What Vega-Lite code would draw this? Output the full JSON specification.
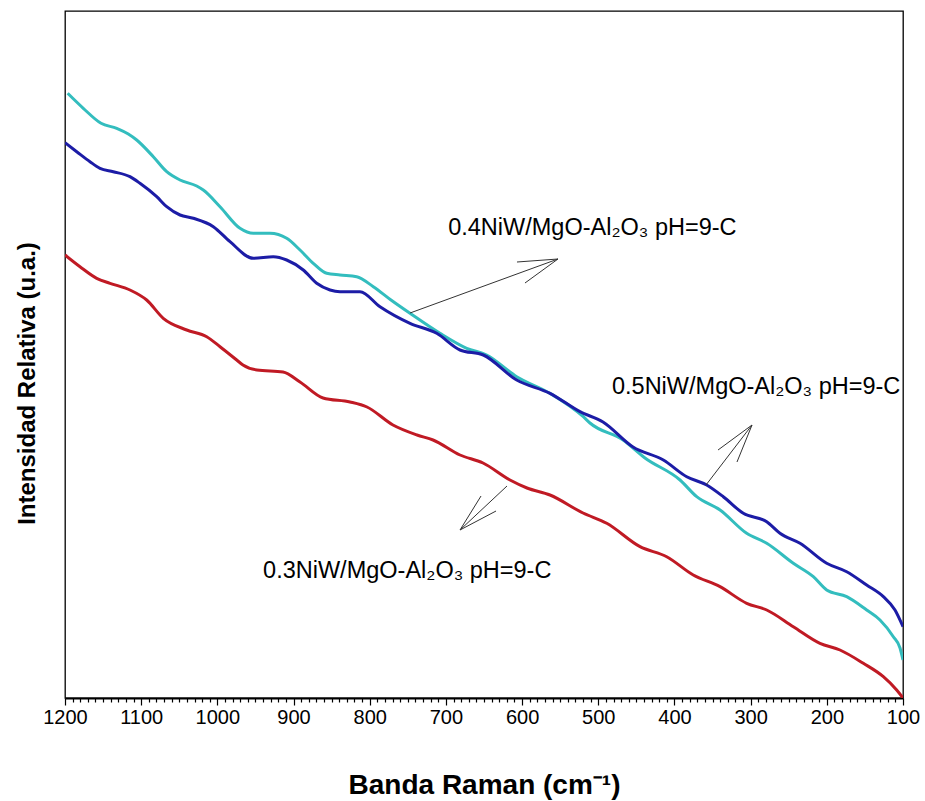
{
  "$schema": "https://vega.github.io/schema/vega-lite/v6.json",
  "width": 838,
  "height": 687,
  "autosize": {"type": "none"},
  "padding": {"left": 65, "top": 11, "right": 22, "bottom": 103},
  "background": "white",
  "config": {
    "view": {"stroke": "black", "strokeWidth": 1.3},
    "font": "Liberation Sans"
  },
  "datasets": {
    "espectros": [
      {"serie": "0.3", "banda": 1200, "intensidad": 443},
      {"serie": "0.3", "banda": 1180.3, "intensidad": 431.3},
      {"serie": "0.3", "banda": 1158.4, "intensidad": 419.7},
      {"serie": "0.3", "banda": 1140.9, "intensidad": 414.7},
      {"serie": "0.3", "banda": 1114.7, "intensidad": 408},
      {"serie": "0.3", "banda": 1092.8, "intensidad": 398},
      {"serie": "0.3", "banda": 1071, "intensidad": 379.7},
      {"serie": "0.3", "banda": 1040.2, "intensidad": 368},
      {"serie": "0.3", "banda": 1014, "intensidad": 361.3},
      {"serie": "0.3", "banda": 996.5, "intensidad": 351.3},
      {"serie": "0.3", "banda": 974.6, "intensidad": 338},
      {"serie": "0.3", "banda": 966.4, "intensidad": 333},
      {"serie": "0.3", "banda": 948, "intensidad": 328},
      {"serie": "0.3", "banda": 913.8, "intensidad": 326},
      {"serie": "0.3", "banda": 891.5, "intensidad": 316},
      {"serie": "0.3", "banda": 861.3, "intensidad": 300},
      {"serie": "0.3", "banda": 825.9, "intensidad": 296},
      {"serie": "0.3", "banda": 803.6, "intensidad": 291},
      {"serie": "0.3", "banda": 769.5, "intensidad": 273},
      {"serie": "0.3", "banda": 737.9, "intensidad": 263},
      {"serie": "0.3", "banda": 716.9, "intensidad": 258},
      {"serie": "0.3", "banda": 681.5, "intensidad": 243},
      {"serie": "0.3", "banda": 651.3, "intensidad": 235},
      {"serie": "0.3", "banda": 615.9, "intensidad": 218},
      {"serie": "0.3", "banda": 593.6, "intensidad": 210},
      {"serie": "0.3", "banda": 563.4, "intensidad": 203},
      {"serie": "0.3", "banda": 520, "intensidad": 185},
      {"serie": "0.3", "banda": 488.9, "intensidad": 174.7},
      {"serie": "0.3", "banda": 445.2, "intensidad": 151.3},
      {"serie": "0.3", "banda": 410.2, "intensidad": 141.3},
      {"serie": "0.3", "banda": 375.3, "intensidad": 123},
      {"serie": "0.3", "banda": 340.2, "intensidad": 111.3},
      {"serie": "0.3", "banda": 305.2, "intensidad": 94.7},
      {"serie": "0.3", "banda": 278.9, "intensidad": 88},
      {"serie": "0.3", "banda": 244, "intensidad": 71.3},
      {"serie": "0.3", "banda": 209, "intensidad": 54.7},
      {"serie": "0.3", "banda": 182.7, "intensidad": 48},
      {"serie": "0.3", "banda": 152.1, "intensidad": 34.7},
      {"serie": "0.3", "banda": 125.8, "intensidad": 21.3},
      {"serie": "0.3", "banda": 108.3, "intensidad": 8},
      {"serie": "0.3", "banda": 100, "intensidad": 0},

      {"serie": "0.4", "banda": 1196.5, "intensidad": 604.7},
      {"serie": "0.4", "banda": 1176, "intensidad": 589.7},
      {"serie": "0.4", "banda": 1152.7, "intensidad": 574.7},
      {"serie": "0.4", "banda": 1132.1, "intensidad": 569.7},
      {"serie": "0.4", "banda": 1116.9, "intensidad": 564},
      {"serie": "0.4", "banda": 1105.9, "intensidad": 558},
      {"serie": "0.4", "banda": 1084.1, "intensidad": 541.3},
      {"serie": "0.4", "banda": 1066.5, "intensidad": 526.3},
      {"serie": "0.4", "banda": 1049, "intensidad": 518},
      {"serie": "0.4", "banda": 1027.1, "intensidad": 512},
      {"serie": "0.4", "banda": 1018.5, "intensidad": 508},
      {"serie": "0.4", "banda": 996.5, "intensidad": 491.3},
      {"serie": "0.4", "banda": 970.3, "intensidad": 469.7},
      {"serie": "0.4", "banda": 952.8, "intensidad": 464.7},
      {"serie": "0.4", "banda": 930.9, "intensidad": 464.7},
      {"serie": "0.4", "banda": 909, "intensidad": 459.7},
      {"serie": "0.4", "banda": 891.5, "intensidad": 448},
      {"serie": "0.4", "banda": 874.1, "intensidad": 434.7},
      {"serie": "0.4", "banda": 856.5, "intensidad": 424.7},
      {"serie": "0.4", "banda": 839, "intensidad": 423},
      {"serie": "0.4", "banda": 817.1, "intensidad": 421.3},
      {"serie": "0.4", "banda": 795.3, "intensidad": 411.3},
      {"serie": "0.4", "banda": 772.1, "intensidad": 398},
      {"serie": "0.4", "banda": 747.1, "intensidad": 384.7},
      {"serie": "0.4", "banda": 707.8, "intensidad": 364.7},
      {"serie": "0.4", "banda": 672.7, "intensidad": 349.7},
      {"serie": "0.4", "banda": 646.5, "intensidad": 343},
      {"serie": "0.4", "banda": 607.1, "intensidad": 321.3},
      {"serie": "0.4", "banda": 563.4, "intensidad": 304.7},
      {"serie": "0.4", "banda": 519.6, "intensidad": 281.3},
      {"serie": "0.4", "banda": 510.9, "intensidad": 275},
      {"serie": "0.4", "banda": 467.5, "intensidad": 258},
      {"serie": "0.4", "banda": 438.7, "intensidad": 240},
      {"serie": "0.4", "banda": 392.7, "intensidad": 218},
      {"serie": "0.4", "banda": 370.8, "intensidad": 201.3},
      {"serie": "0.4", "banda": 340.2, "intensidad": 188},
      {"serie": "0.4", "banda": 305.2, "intensidad": 164.7},
      {"serie": "0.4", "banda": 278.9, "intensidad": 154.7},
      {"serie": "0.4", "banda": 244, "intensidad": 134.7},
      {"serie": "0.4", "banda": 217.7, "intensidad": 121.3},
      {"serie": "0.4", "banda": 200.2, "intensidad": 108},
      {"serie": "0.4", "banda": 173.9, "intensidad": 101.3},
      {"serie": "0.4", "banda": 147.7, "intensidad": 88},
      {"serie": "0.4", "banda": 130.2, "intensidad": 78},
      {"serie": "0.4", "banda": 112.7, "intensidad": 61.3},
      {"serie": "0.4", "banda": 103.9, "intensidad": 50},
      {"serie": "0.4", "banda": 100, "intensidad": 38},

      {"serie": "0.5", "banda": 1200, "intensidad": 555.3},
      {"serie": "0.5", "banda": 1184.6, "intensidad": 546.3},
      {"serie": "0.5", "banda": 1167.2, "intensidad": 536.3},
      {"serie": "0.5", "banda": 1154.1, "intensidad": 529.7},
      {"serie": "0.5", "banda": 1136.6, "intensidad": 526.3},
      {"serie": "0.5", "banda": 1114.7, "intensidad": 521.3},
      {"serie": "0.5", "banda": 1101.6, "intensidad": 514.7},
      {"serie": "0.5", "banda": 1079.6, "intensidad": 501.3},
      {"serie": "0.5", "banda": 1066.5, "intensidad": 491.3},
      {"serie": "0.5", "banda": 1049, "intensidad": 483},
      {"serie": "0.5", "banda": 1031.6, "intensidad": 479.7},
      {"serie": "0.5", "banda": 1005.3, "intensidad": 471.3},
      {"serie": "0.5", "banda": 983.4, "intensidad": 456.3},
      {"serie": "0.5", "banda": 952.8, "intensidad": 439.7},
      {"serie": "0.5", "banda": 926.6, "intensidad": 441.3},
      {"serie": "0.5", "banda": 909, "intensidad": 438},
      {"serie": "0.5", "banda": 887.2, "intensidad": 428},
      {"serie": "0.5", "banda": 869.6, "intensidad": 414.7},
      {"serie": "0.5", "banda": 852.1, "intensidad": 408},
      {"serie": "0.5", "banda": 839, "intensidad": 406.3},
      {"serie": "0.5", "banda": 812.8, "intensidad": 406.3},
      {"serie": "0.5", "banda": 786.5, "intensidad": 391.3},
      {"serie": "0.5", "banda": 747.1, "intensidad": 374.7},
      {"serie": "0.5", "banda": 712.1, "intensidad": 364.7},
      {"serie": "0.5", "banda": 681.5, "intensidad": 348},
      {"serie": "0.5", "banda": 650.9, "intensidad": 343},
      {"serie": "0.5", "banda": 607.1, "intensidad": 318},
      {"serie": "0.5", "banda": 563.4, "intensidad": 304.7},
      {"serie": "0.5", "banda": 524, "intensidad": 286.3},
      {"serie": "0.5", "banda": 493.8, "intensidad": 276},
      {"serie": "0.5", "banda": 454.4, "intensidad": 251},
      {"serie": "0.5", "banda": 414.6, "intensidad": 238},
      {"serie": "0.5", "banda": 383.9, "intensidad": 221.3},
      {"serie": "0.5", "banda": 357.7, "intensidad": 213},
      {"serie": "0.5", "banda": 335.9, "intensidad": 201.3},
      {"serie": "0.5", "banda": 309.6, "intensidad": 184.7},
      {"serie": "0.5", "banda": 278.9, "intensidad": 176.3},
      {"serie": "0.5", "banda": 261.5, "intensidad": 164.7},
      {"serie": "0.5", "banda": 235.2, "intensidad": 154.7},
      {"serie": "0.5", "banda": 200.2, "intensidad": 134.7},
      {"serie": "0.5", "banda": 173.9, "intensidad": 126.3},
      {"serie": "0.5", "banda": 147.7, "intensidad": 113},
      {"serie": "0.5", "banda": 125.8, "intensidad": 101.3},
      {"serie": "0.5", "banda": 110.5, "intensidad": 88},
      {"serie": "0.5", "banda": 100, "intensidad": 71.3}
    ],
    "flechas": [
      {"banda": 747.1, "intensidad": 385, "banda2": 552.9, "intensidad2": 439},
      {"banda": 606.7, "intensidad": 436, "banda2": 552.9, "intensidad2": 439},
      {"banda": 596.2, "intensidad": 415, "banda2": 552.9, "intensidad2": 439},
      {"banda": 358.6, "intensidad": 213, "banda2": 298.2, "intensidad2": 273},
      {"banda": 342.8, "intensidad": 248, "banda2": 298.2, "intensidad2": 273},
      {"banda": 317.9, "intensidad": 236, "banda2": 298.2, "intensidad2": 273},
      {"banda": 619.8, "intensidad": 212, "banda2": 681.5, "intensidad2": 168},
      {"banda": 653.9, "intensidad": 202, "banda2": 681.5, "intensidad2": 168},
      {"banda": 634.2, "intensidad": 187, "banda2": 681.5, "intensidad2": 168}
    ],
    "etiquetas": [
      {"texto": "0.4NiW/MgO-Al₂O₃ pH=9-C", "banda": 697, "intensidad": 463},
      {"texto": "0.5NiW/MgO-Al₂O₃ pH=9-C", "banda": 482, "intensidad": 304},
      {"texto": "0.3NiW/MgO-Al₂O₃ pH=9-C", "banda": 940, "intensidad": 120}
    ]
  },
  "encoding": {
    "x": {
      "field": "banda",
      "type": "quantitative",
      "scale": {"domain": [100, 1200], "reverse": true, "nice": false, "zero": false},
      "axis": {
        "values": [100,110,120,130,140,150,160,170,180,190,200,210,220,230,240,250,260,270,280,290,300,310,320,330,340,350,360,370,380,390,400,410,420,430,440,450,460,470,480,490,500,510,520,530,540,550,560,570,580,590,600,610,620,630,640,650,660,670,680,690,700,710,720,730,740,750,760,770,780,790,800,810,820,830,840,850,860,870,880,890,900,910,920,930,940,950,960,970,980,990,1000,1010,1020,1030,1040,1050,1060,1070,1080,1090,1100,1110,1120,1130,1140,1150,1160,1170,1180,1190,1200],
        "format": "d",
        "labelExpr": "datum.value % 100 === 0 ? datum.label : ''",
        "labelOverlap": false,
        "labelFlush": false,
        "labelFont": "Liberation Sans",
        "labelFontSize": 20,
        "labelColor": "black",
        "labelPadding": 2,
        "tickSize": {"condition": {"test": "datum.value % 100 === 0", "value": 7}, "value": 4},
        "tickColor": "black",
        "tickWidth": 1.2,
        "domainColor": "black",
        "domainWidth": 2,
        "grid": false,
        "title": "Banda Raman (cm⁻¹)",
        "titleFont": "Liberation Sans",
        "titleFontSize": 28,
        "titleFontWeight": "bold",
        "titleColor": "black",
        "titleBaseline": "alphabetic",
        "titleY": 95
      }
    },
    "y": {
      "field": "intensidad",
      "type": "quantitative",
      "scale": {"domain": [0, 687], "nice": false, "zero": false},
      "axis": {
        "domain": false,
        "ticks": false,
        "labels": false,
        "grid": false,
        "title": "Intensidad Relativa (u.a.)",
        "titleFont": "Liberation Sans",
        "titleFontSize": 24,
        "titleFontWeight": "bold",
        "titleColor": "black",
        "titleBaseline": "middle",
        "titleX": -38,
        "titleY": 372
      }
    }
  },
  "layer": [
    {
      "data": {"name": "espectros"},
      "mark": {"type": "line", "strokeWidth": 3, "interpolate": "monotone", "clip": true},
      "encoding": {
        "color": {
          "field": "serie",
          "type": "nominal",
          "scale": {"domain": ["0.3", "0.4", "0.5"], "range": ["#C01A24", "#33BDBE", "#1C1CA6"]},
          "legend": null
        }
      }
    },
    {
      "data": {"name": "flechas"},
      "mark": {"type": "rule", "color": "#333333", "strokeWidth": 1},
      "encoding": {
        "x2": {"field": "banda2"},
        "y2": {"field": "intensidad2"}
      }
    },
    {
      "data": {"name": "etiquetas"},
      "mark": {"type": "text", "align": "left", "baseline": "alphabetic", "font": "Liberation Sans", "fontSize": 23.5, "color": "black"},
      "encoding": {
        "text": {"field": "texto"}
      }
    }
  ]
}
